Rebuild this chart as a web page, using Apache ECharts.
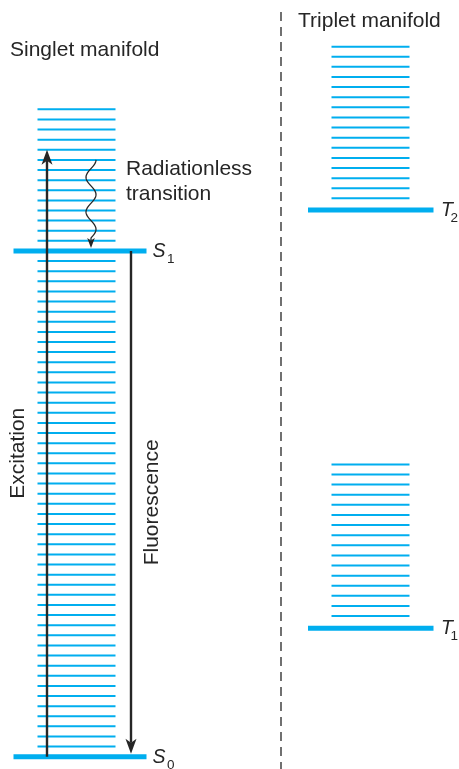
<!DOCTYPE html>
<html><head><meta charset="utf-8">
<script src="https://cdn.jsdelivr.net/npm/echarts@6/dist/echarts.min.js"></script>
<style>html,body{margin:0;padding:0;background:#fff}#c{width:459px;height:769px}</style>
</head><body><div id="c"></div>
<script>
// ---- DATA (energies in units of one vibrational spacing) ----
const singletStates = ['S0', 'S1'];
const singletEnergies = [0, 50];
const singletVibrational = [1,2,3,4,5,6,7,8,9,10,11,12,13,14,15,16,17,18,19,20,21,22,23,24,25,26,27,28,29,30,31,32,33,34,35,36,37,38,39,40,41,42,43,44,45,46,47,48,49,51,52,53,54,55,56,57,58,59,60,61,62,63,64];
const tripletStates = ['T1', 'T2'];
const tripletEnergies = [12.7, 54.05];
const tripletVibrational = [13.9,14.9,15.9,16.9,17.9,18.9,19.9,20.9,21.9,22.9,23.9,24.9,25.9,26.9,27.9,28.9,55.2,56.2,57.2,58.2,59.2,60.2,61.2,62.2,63.2,64.2,65.2,66.2,67.2,68.2,69.2,70.2];
const transitionNames = ['Excitation', 'Fluorescence', 'Radiationless transition'];
const transitionFrom = [0, 50, 59];
const transitionTo = [60, 0, 50];
const manifoldTitles = ['Singlet manifold', 'Triplet manifold'];

// ---- STYLE / LAYOUT ----
const BLUE = '#00aeef';
const INK = '#262626';
const FONT = '"Liberation Sans", Arial, Helvetica, sans-serif';
const MAIN_SIZE = 19.5, SUB_SIZE = 13.5;
const KERN = { S: 1.5, T: -2.5 };
const LADDER = {
  singlet: { thin: [37.5, 115.5], thick: [13.5, 146.5], labelX: 152.5 },
  triplet: { thin: [331.5, 409.5], thick: [308, 433.5], labelX: 441 }
};
const ARROW = [
  { x: 47, width: 2.4, head: [15, 5.5, 4], gap: 0, label: { dx: -29, rotate: true } },
  { x: 131, width: 2.4, head: [15, 5.5, 4], gap: 3, label: { dx: 21.5, rotate: true } },
  { x: 91, width: 1.3, head: [10, 3.8, 2.5], gap: 3, wavy: { amp: 5, periods: 2.25 },
    label: { x: 126, dy: -3 } }
];

const measureCtx = document.createElement('canvas').getContext('2d');
function textWidth(t, font) { measureCtx.font = font; return measureCtx.measureText(t).width; }

const chart = echarts.init(document.getElementById('c'), null, { renderer: 'canvas' });

function levelSeries(name, values, ladder, thick, states) {
  return {
    type: 'custom', name: name, coordinateSystem: 'cartesian2d',
    encode: { y: 0 }, z: thick ? 3 : 2, silent: true,
    data: values.map(v => [v]),
    renderItem: function (params, api) {
      const e = api.value(0);
      const L = LADDER[ladder];
      const xs = thick ? L.thick : L.thin;
      const a = api.coord([xs[0], e]);
      const b = api.coord([xs[1], e]);
      const children = [{
        type: 'line',
        shape: { x1: a[0], y1: a[1], x2: b[0], y2: b[1] },
        style: { stroke: BLUE, lineWidth: thick ? 5 : 2 }
      }];
      if (thick && states) {
        const st = states[params.dataIndex];
        const letter = st[0];
        const lp = api.coord([L.labelX, e]);
        const w = textWidth(letter, 'italic ' + MAIN_SIZE + 'px ' + FONT);
        children.push({
          type: 'text', x: lp[0], y: lp[1] + 0.5,
          style: { text: letter, fontSize: MAIN_SIZE, fontStyle: 'italic', fontFamily: FONT, fill: INK, align: 'left', verticalAlign: 'middle' }
        });
        children.push({
          type: 'text', x: lp[0] + w + (KERN[letter] || 0), y: lp[1] + 8.5,
          style: { text: st.slice(1), fontSize: SUB_SIZE, fontFamily: FONT, fill: INK, align: 'left', verticalAlign: 'middle' }
        });
      }
      return { type: 'group', children: children };
    }
  };
}

function arrowHead(x, tipY, dir, head) {
  const backY = tipY - dir * head[0];
  const notchY = backY + dir * head[2];
  return {
    type: 'polygon',
    shape: { points: [[x, tipY], [x - head[1], backY], [x, notchY], [x + head[1], backY]] },
    style: { fill: INK }
  };
}

const transitionSeries = {
  type: 'custom', name: 'Transitions', coordinateSystem: 'cartesian2d',
  encode: { y: [0, 1] }, z: 5, silent: true,
  data: transitionFrom.map((f, i) => [f, transitionTo[i]]),
  renderItem: function (params, api) {
    const i = params.dataIndex;
    const A = ARROW[i];
    const p0 = api.coord([A.x, api.value(0)]);
    const p1 = api.coord([A.x, api.value(1)]);
    const dir = p1[1] > p0[1] ? 1 : -1;
    const tipY = p1[1] - dir * A.gap;
    const notchY = tipY - dir * (A.head[0] - A.head[2]);
    const children = [];
    if (A.wavy) {
      const len = Math.abs(notchY - p0[1]);
      const backLen = Math.abs(tipY - dir * A.head[0] - p0[1]);
      const P = backLen / A.wavy.periods;
      const pts = [];
      for (let t = 0; t <= len + 0.01; t += 1) {
        pts.push([p0[0] + A.wavy.amp * Math.cos(2 * Math.PI * Math.min(t, backLen) / P), p0[1] + dir * t]);
      }
      children.push({ type: 'polyline', shape: { points: pts }, style: { stroke: INK, lineWidth: A.width, fill: null } });
    } else {
      children.push({ type: 'line', shape: { x1: p0[0], y1: p0[1], x2: p0[0], y2: notchY },
        style: { stroke: INK, lineWidth: A.width } });
    }
    children.push(arrowHead(p0[0], tipY, dir, A.head));
    const name = transitionNames[i];
    if (A.label.rotate) {
      children.push({
        type: 'text', x: p0[0] + A.label.dx, y: (p0[1] + tipY) / 2, rotation: Math.PI / 2,
        style: { text: name, fontSize: 21, fontFamily: FONT, fill: INK, align: 'center', verticalAlign: 'middle' }
      });
    } else {
      children.push({
        type: 'text', x: A.label.x, y: p0[1] + A.label.dy,
        style: { text: name.split(' ').join('\n'), fontSize: 21, lineHeight: 25, fontFamily: FONT, fill: INK, align: 'left', verticalAlign: 'top' }
      });
    }
    return { type: 'group', children: children };
  }
};

chart.setOption({
  animation: false,
  backgroundColor: '#fff',
  grid: { left: 0, right: 0, top: 8.2, bottom: 12.3 },
  xAxis: { type: 'value', min: 0, max: 459, show: false },
  yAxis: { type: 'value', min: 0, max: 74, show: false },
  graphic: [
    { type: 'text', x: 10, y: 50.5, style: { text: manifoldTitles[0], fontSize: 21, fontFamily: FONT, fill: INK, verticalAlign: 'middle' } },
    { type: 'text', x: 298, y: 21, style: { text: manifoldTitles[1], fontSize: 21, fontFamily: FONT, fill: INK, verticalAlign: 'middle' } },
    { type: 'line', shape: { x1: 281, y1: 12, x2: 281, y2: 769 }, style: { stroke: INK, lineWidth: 1.3, lineDash: [9, 6] } }
  ],
  series: [
    levelSeries('Singlet vibrational', singletVibrational, 'singlet', false),
    levelSeries('Triplet vibrational', tripletVibrational, 'triplet', false),
    levelSeries('Singlet states', singletEnergies, 'singlet', true, singletStates),
    levelSeries('Triplet states', tripletEnergies, 'triplet', true, tripletStates),
    transitionSeries
  ]
});
</script></body></html>
